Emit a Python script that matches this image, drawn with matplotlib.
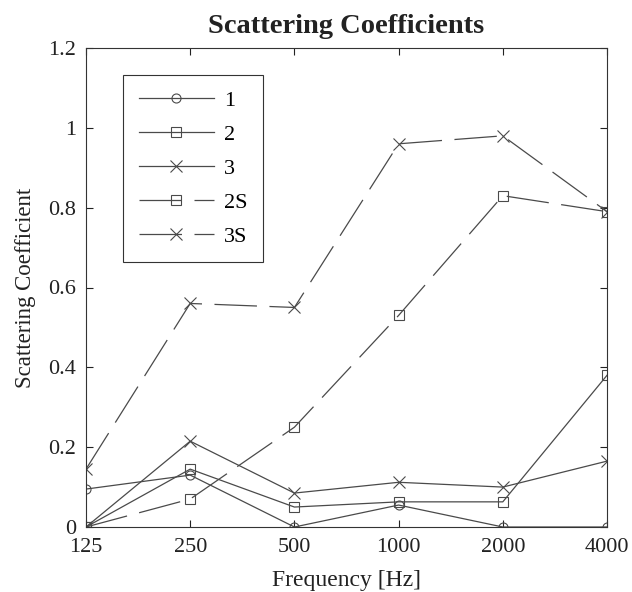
import numpy as np
import matplotlib.pyplot as plt

freqs = [125, 250, 500, 1000, 2000, 4000]
freq_labels = ["125", "250", "500", "1000", "2000", "4000"]

s1 = [0.095, 0.13, 0.0, 0.055, 0.0, 0.0]
s2 = [0.0, 0.145, 0.05, 0.063, 0.063, 0.38]
s3 = [0.0, 0.215, 0.085, 0.112, 0.1, 0.165]
s2s = [0.0, 0.07, 0.25, 0.53, 0.83, 0.79]
s3s = [0.145, 0.56, 0.55, 0.96, 0.98, 0.79]

plt.rcParams['font.family'] = ['Liberation Serif', 'DejaVu Serif']

fig = plt.figure(figsize=(6.32, 5.92), dpi=100)
ax = fig.add_axes([86/632, 1 - 527/592, 521/632, 479/592])

c = "#4a4a4a"
lw = 0.9
ms = 6.5
dash = (0, (34, 10))
ax.plot(freqs, s1, color=c, lw=lw, marker="o", ms=ms, mfc="none", mec=c, mew=0.8, label="1")
ax.plot(freqs, s2, color=c, lw=lw, marker="s", ms=ms, mfc="none", mec=c, mew=0.8, label="2")
ax.plot(freqs, s3, color=c, lw=lw, marker="x", ms=ms + 1.5, mec=c, mew=0.8, label="3")
ax.plot(freqs, s2s, color=c, lw=lw, ls=dash, marker="s", ms=ms, mfc="none", mec=c, mew=0.8, label="2S")
ax.plot(freqs, s3s, color=c, lw=lw, ls=dash, marker="x", ms=ms + 1.5, mec=c, mew=0.8, label="3S")

ax.set_xscale("log")
ax.set_xlim(125, 4000)
ax.set_ylim(0, 1.2)
ax.set_xticks(freqs)
ax.set_xticklabels(freq_labels)
ax.minorticks_off()
ax.set_yticks([0, 0.2, 0.4, 0.6, 0.8, 1.0, 1.2])
ax.set_yticklabels(["0", "0.2", "0.4", "0.6", "0.8", "1", "1.2"])
ax.tick_params(direction="in", top=True, right=True, labelsize=16, length=5, width=0.8,
               colors="#222222")
ax.tick_params(axis="x", pad=8)
ax.tick_params(axis="y", pad=7)
for sp in ax.spines.values():
    sp.set_linewidth(0.8)
    sp.set_color("#333333")

ax.set_xlabel("Frequency [Hz]", fontsize=17, color="#222222", labelpad=9)
ax.set_ylabel("Scattering Coefficient", fontsize=16.5, color="#222222", labelpad=9)
ax.set_title("Scattering Coefficients", fontsize=20.5, fontweight="bold", color="#222222", pad=11)

leg = ax.legend(loc="upper left", bbox_to_anchor=(37/521, 1 - 27/479), fontsize=16,
                fancybox=False, edgecolor="#333333", framealpha=1, handlelength=3.4,
                labelspacing=0.6, borderpad=0.7, handletextpad=0.45, borderaxespad=0)
leg.get_frame().set_linewidth(0.8)

fig.savefig("out.png", dpi=100)
